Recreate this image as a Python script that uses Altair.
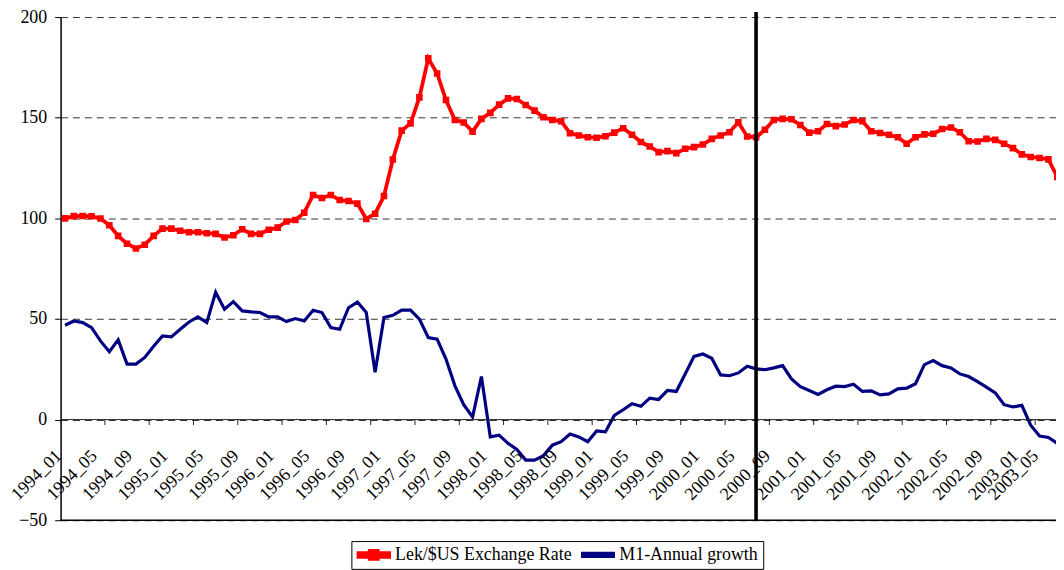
import altair as alt
import pandas as pd
import math

# ---------------- data ----------------
months = [f"{y}_{m:02d}" for y in range(1994, 2004) for m in range(1, 13)]

lek_usd = [
    100.0, 101.1, 101.2, 101.0, 99.9, 96.6, 91.3, 87.4, 85.0, 86.9,
    91.3, 94.9, 94.9, 93.8, 93.1, 93.1, 92.6, 92.3, 90.5, 91.6,
    94.6, 92.3, 92.3, 94.3, 95.4, 98.4, 99.2, 102.8, 111.6, 110.1,
    111.6, 109.1, 108.6, 107.3, 99.7, 102.3, 111.1, 129.2, 143.6, 147.2,
    160.1, 179.5, 172.0, 158.8, 148.9, 147.6, 143.1, 149.4, 152.4, 156.5,
    159.6, 159.3, 156.3, 153.5, 150.2, 148.9, 148.2, 142.3, 141.2, 140.3,
    140.0, 140.8, 142.6, 144.8, 141.5, 137.9, 135.7, 132.9, 133.4, 132.4,
    134.6, 135.4, 136.7, 139.5, 141.2, 142.8, 147.7, 140.7, 140.3, 144.0,
    148.9, 149.4, 149.2, 146.4, 142.6, 143.3, 146.9, 145.8, 146.6, 148.9,
    148.2, 143.3, 142.4, 141.5, 140.3, 137.1, 140.3, 141.7, 142.0, 144.4,
    145.1, 142.8, 138.3, 138.2, 139.5, 139.0, 137.1, 134.9, 131.8, 130.5,
    130.0, 129.3, 120.6,
]

m1_growth = [
    46.9, 49.0, 48.2, 45.7, 39.1, 33.7, 39.6, 27.6, 27.6, 30.9,
    36.4, 41.6, 41.1, 44.9, 48.5, 51.0, 48.2, 63.3, 54.8, 58.6,
    54.0, 53.5, 53.2, 51.0, 51.0, 48.7, 50.2, 49.0, 54.3, 53.2,
    45.7, 44.9, 55.6, 58.4, 53.2, 23.5, 50.7, 51.8, 54.4, 54.4,
    49.9, 40.8, 40.0, 30.1, 16.9, 7.4, 1.3, 21.4, -8.6, -7.7,
    -11.8, -14.8, -20.1, -20.1, -17.9, -12.7, -11.0, -7.2, -8.6, -11.0,
    -5.6, -6.1, 2.1, 4.9, 7.9, 6.6, 10.7, 10.0, 14.5, 14.0,
    22.7, 31.4, 32.6, 30.5, 22.2, 21.8, 23.2, 26.5, 25.2, 24.8,
    25.7, 26.8, 20.2, 16.4, 14.5, 12.5, 14.8, 16.6, 16.4, 17.6,
    14.0, 14.3, 12.3, 12.8, 15.3, 15.6, 17.8, 27.3, 29.3, 26.8,
    25.7, 22.7, 21.4, 18.9, 16.1, 13.3, 7.4, 6.3, 7.1, -2.8,
    -8.2, -8.9, -11.8,
]

SER_LEK = "Lek/$US Exchange Rate"
SER_M1 = "M1-Annual growth"
series_names = [SER_LEK, SER_M1]
series_colors = ["#FF0000", "#000080"]
series_widths = [3.8, 3.2]
series_symbols = [
    "M-1,-0.12H1V0.12H-1ZM-0.26,-0.26H0.26V0.26H-0.26Z",
    "M-1,-0.1H1V0.1H-1Z",
]

y_ticks = [-50, 0, 50, 100, 150, 200]
label_step = 4      # month labels every 4 categories
tick_step = 5       # tick marks every 5 categories
event_month = "2000_07"

# ---------------- layout ----------------
W, H = 1003, 507
VISIBLE_W = 995          # part of the plot that the page actually shows
MONTH_PX = 8.927
FONT = "'Liberation Serif', 'Times New Roman', Times, 'DejaVu Serif', serif"

# ---------------- tables ----------------
n = len(lek_usd)
months = months[:n]
df = pd.DataFrame({
    "idx": list(range(n)) * 2,
    "month": months * 2,
    "value": lek_usd + m1_growth,
    "series": [SER_LEK] * n + [SER_M1] * n,
})
df_lek = df[df["series"] == SER_LEK]
label_idx = list(range(0, n, label_step))
# keep the last rotated label inside the visible page
label_max = (VISIBLE_W - 1) / MONTH_PX - 0.5 - 0.6
labels_df = pd.DataFrame({"idx": [min(i, label_max) for i in label_idx],
                          "label": months[::label_step]})
ticks_df = pd.DataFrame({"idx": [k - 0.5 for k in range(0, n, tick_step)]})
event_df = pd.DataFrame({"idx": [months.index(event_month)]})

x_scale = alt.Scale(domain=[-0.5, W / MONTH_PX - 0.5], nice=False, zero=False)
y_scale = alt.Scale(domain=[-50, 200], nice=False, zero=False)

X = alt.X("idx:Q", scale=x_scale, axis=None)

legend = alt.Legend(
    title=None, orient="none", legendX=293, legendY=528, direction="horizontal",
    labelFont=FONT, labelFontSize=18, labelColor="black", labelLimit=400,
    symbolSize=961, symbolOpacity=1, symbolStrokeWidth=0, clipHeight=18,
    strokeColor="black", fillColor="white", padding=5, columnPadding=9,
    labelOffset=4,
)
color = alt.Color("series:N", scale=alt.Scale(domain=series_names, range=series_colors),
                  legend=legend)

y_axis = alt.Axis(values=y_ticks, title=None, labelFont=FONT, labelFontSize=18,
                  labelColor="black", labelPadding=8, labelFlush=False,
                  labelOverlap=False, tickSize=6, tickColor="black", tickWidth=1,
                  domainColor="black", domainWidth=1.5, grid=True,
                  gridDash=[7, 5], gridColor="#333333", gridWidth=1)

base = alt.Chart(df)

lines = base.mark_line(clip=True).encode(
    x=X,
    y=alt.Y("value:Q", scale=y_scale, axis=y_axis),
    color=color,
    strokeWidth=alt.StrokeWidth("series:N", scale=alt.Scale(domain=series_names, range=series_widths), legend=None),
    detail="series:N",
)

squares = alt.Chart(df_lek).mark_square(size=44, filled=True, opacity=1, color="#FF0000", clip=True).encode(
    x=X, y=alt.Y("value:Q", scale=y_scale, axis=y_axis),
)

legend_layer = base.mark_point(filled=True, opacity=0, clip=True).encode(
    x=X, y=alt.Y("value:Q", scale=y_scale, axis=y_axis),
    color=color,
    shape=alt.Shape("series:N", scale=alt.Scale(domain=series_names, range=series_symbols), legend=legend),
)

zero_line = alt.Chart(pd.DataFrame({"v": [0]})).mark_rule(color="#222222", strokeWidth=1).encode(
    y=alt.YDatum(0, scale=y_scale, axis=y_axis))
bottom_line = alt.Chart(pd.DataFrame({"v": [0]})).mark_rule(color="black", strokeWidth=1.6).encode(
    y=alt.YDatum(y_ticks[0], scale=y_scale, axis=y_axis))

x_ticks = alt.Chart(ticks_df).mark_rule(color="#222222", strokeWidth=1, clip=True).encode(
    x=X, y=alt.YDatum(0, scale=y_scale, axis=y_axis), y2=alt.Y2Datum(-2.7))

event_rule = alt.Chart(event_df).mark_rule(color="black", strokeWidth=3.6).encode(
    x=X, y=alt.YDatum(y_ticks[0], scale=y_scale, axis=y_axis), y2=alt.value(-5))

# rotated month labels: baseline end sits ~37px under the axis, near the category centre
sx, sy = -2.5, 37.5
c = math.cos(math.radians(45))
ldx = (sx - sy) / (2 * c)
ldy = (sx + sy) / (2 * c)
x_labels = alt.Chart(labels_df).mark_text(
    angle=315, align="right", baseline="alphabetic", font=FONT, fontSize=18,
    color="black", dx=ldx, dy=ldy,
).encode(x=X, y=alt.YDatum(0, scale=y_scale, axis=y_axis), text="label:N")

chart = alt.layer(
    lines, zero_line, bottom_line, x_ticks, squares, legend_layer, event_rule, x_labels
).properties(
    width=W, height=H,
    padding={"left": 53, "top": 7, "right": 0, "bottom": 48},
    autosize=alt.AutoSizeParams(type="none"),
    background="white",
).configure_view(stroke=None)

chart.save("out.html", embed_options={"renderer": "svg", "actions": False})
